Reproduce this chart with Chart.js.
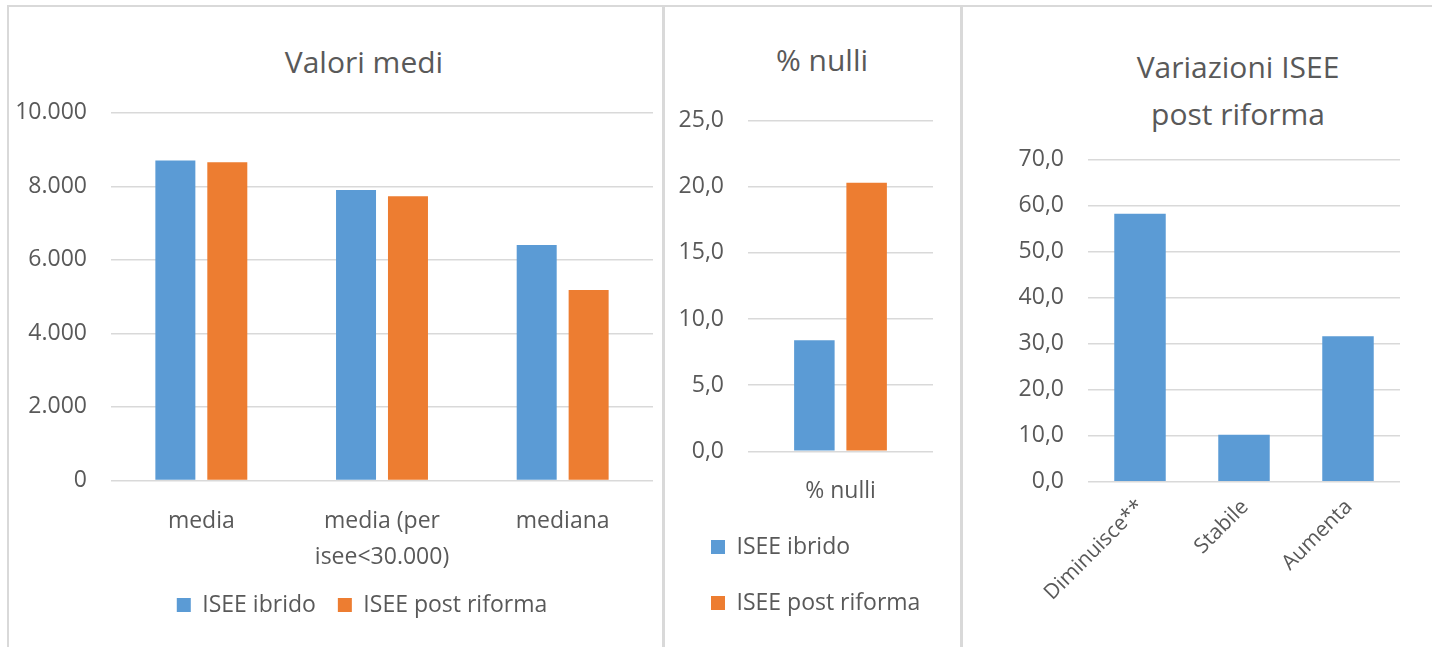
<!DOCTYPE html>
<html>
<head>
<meta charset="utf-8">
<script src="https://cdn.jsdelivr.net/npm/chart.js@4.4.1/dist/chart.umd.min.js"></script>
<style>
  body { margin: 0; width: 1432px; height: 647px; overflow: hidden; background: #fff; font-family: "Open Sans", sans-serif; }
  .pannello { position: absolute; border: 2px solid #d9d9d9; box-sizing: border-box; }
  canvas { position: absolute; top: 0; }
  .titolo { position: absolute; width: 400px; color: #595959; font-size: 30px; line-height: 30px; text-align: center; white-space: nowrap; }
</style>
</head>
<body>
<div class="pannello" style="left:7px;top:5px;width:658px;height:700px"></div>
<div class="pannello" style="left:662px;top:5px;width:301px;height:700px"></div>
<div class="pannello" style="left:960px;top:5px;width:600px;height:700px"></div>

<div class="titolo" style="left:164px;top:47px">Valori medi</div>
<div class="titolo" style="left:622px;top:45px">% nulli</div>
<div class="titolo" style="left:1038px;top:52px">Variazioni ISEE</div>
<div class="titolo" style="left:1038px;top:99px">post riforma</div>

<canvas id="graficoValori" width="714" height="647" style="left:0px"></canvas>
<canvas id="graficoNulli" width="269" height="647" style="left:664px"></canvas>
<canvas id="graficoVariazioni" width="438" height="647" style="left:962px"></canvas>

<script>
// dati
var categorieValori = ['media', ['media (per', 'isee<30.000)'], 'mediana']
var valoriIbrido = [8700, 7900, 6400]
var valoriPostRiforma = [8650, 7730, 5180]
var tickValori = ['0', '2.000', '4.000', '6.000', '8.000', '10.000']

var categorieNulli = ['% nulli']
var nulliIbrido = [8.4]
var nulliPostRiforma = [20.3]
var tickNulli = ['0,0', '5,0', '10,0', '15,0', '20,0', '25,0']

var categorieVariazioni = ['Diminuisce**', 'Stabile', 'Aumenta']
var variazioni = [58.2, 10.2, 31.6]
var tickVariazioni = ['0,0', '10,0', '20,0', '30,0', '40,0', '50,0', '60,0', '70,0']

var blu = '#5B9BD5'
var arancio = '#ED7D31'
var grigioTesto = '#595959'
var grigioGriglia = '#d9d9d9'

Chart.defaults.font.family = '"Open Sans", sans-serif'
Chart.defaults.color = grigioTesto
Chart.defaults.animation = false

function asseY(max, passo, etichette, larghezza) {
  return {
    min: 0,
    max: max,
    ticks: {
      stepSize: passo,
      padding: 24,
      font: { size: 23 },
      callback: function (v, i) { return etichette[i] }
    },
    grid: { color: grigioGriglia, lineWidth: 1.5, drawTicks: false },
    border: { display: false },
    afterFit: function (s) { s.width = larghezza }
  }
}

function asseX(altezza, padding, rotazione, spostamento, dimensione, lineHeight) {
  return {
    ticks: {
      padding: padding,
      autoSkip: false,
      minRotation: rotazione,
      maxRotation: rotazione,
      labelOffset: spostamento,
      font: { size: dimensione, lineHeight: lineHeight }
    },
    grid: { display: false, drawTicks: false },
    border: { display: false },
    afterFit: function (s) { s.height = altezza }
  }
}

function legenda(padding, allineamento) {
  return {
    position: 'bottom',
    align: allineamento,
    labels: { boxWidth: 14, boxHeight: 14, padding: padding, font: { size: 23 }, color: grigioTesto }
  }
}

// Valori medi
new Chart(document.getElementById('graficoValori'), {
  type: 'bar',
  data: {
    labels: categorieValori,
    datasets: [
      { label: 'ISEE ibrido', data: valoriIbrido, backgroundColor: blu, categoryPercentage: 0.575, barPercentage: 0.77 },
      { label: 'ISEE post riforma', data: valoriPostRiforma, backgroundColor: arancio, categoryPercentage: 0.575, barPercentage: 0.77 }
    ]
  },
  options: {
    responsive: false,
    devicePixelRatio: 1,
    events: [],
    layout: { padding: { left: 10, top: 112.7, right: 0, bottom: 20.5 } },
    scales: {
      x: asseX(91, 23, 0, 0, 23, 1.57),
      y: asseY(10000, 2000, tickValori, 101),
      // spazio vuoto a destra, per centrare la legenda come nell'originale
      destra: {
        position: 'right',
        ticks: { display: false },
        grid: { display: false, drawTicks: false },
        border: { display: false },
        afterFit: function (s) { s.width = 61 }
      }
    },
    plugins: {
      legend: legenda(22, 'center'),
      tooltip: { enabled: false }
    }
  }
})

// % nulli
new Chart(document.getElementById('graficoNulli'), {
  type: 'bar',
  data: {
    labels: categorieNulli,
    datasets: [
      { label: 'ISEE ibrido', data: nulliIbrido, backgroundColor: blu, categoryPercentage: 0.565, barPercentage: 0.775 },
      { label: 'ISEE post riforma', data: nulliPostRiforma, backgroundColor: arancio, categoryPercentage: 0.565, barPercentage: 0.775 }
    ]
  },
  options: {
    responsive: false,
    devicePixelRatio: 1,
    events: [],
    layout: { padding: { left: 14, top: 120.7, right: 0, bottom: 22.5 } },
    scales: {
      x: asseX(51.2, 26, 0, 0, 23, 1.2),
      y: asseY(25, 5, tickNulli, 70)
    },
    plugins: {
      legend: legenda(33, 'start'),
      tooltip: { enabled: false }
    }
  }
})

// Variazioni ISEE post riforma
new Chart(document.getElementById('graficoVariazioni'), {
  type: 'bar',
  data: {
    labels: categorieVariazioni,
    datasets: [
      { label: 'Variazioni', data: variazioni, backgroundColor: blu, categoryPercentage: 1, barPercentage: 0.495 }
    ]
  },
  options: {
    responsive: false,
    devicePixelRatio: 1,
    events: [],
    layout: { padding: { left: 40, top: 159.3, right: 0, bottom: 0 } },
    scales: {
      x: asseX(165.3, 13, 45, 1, 21, 1.2),
      y: asseY(70, 10, tickVariazioni, 86)
    },
    plugins: {
      legend: { display: false },
      tooltip: { enabled: false }
    }
  }
})
</script>
</body>
</html>
